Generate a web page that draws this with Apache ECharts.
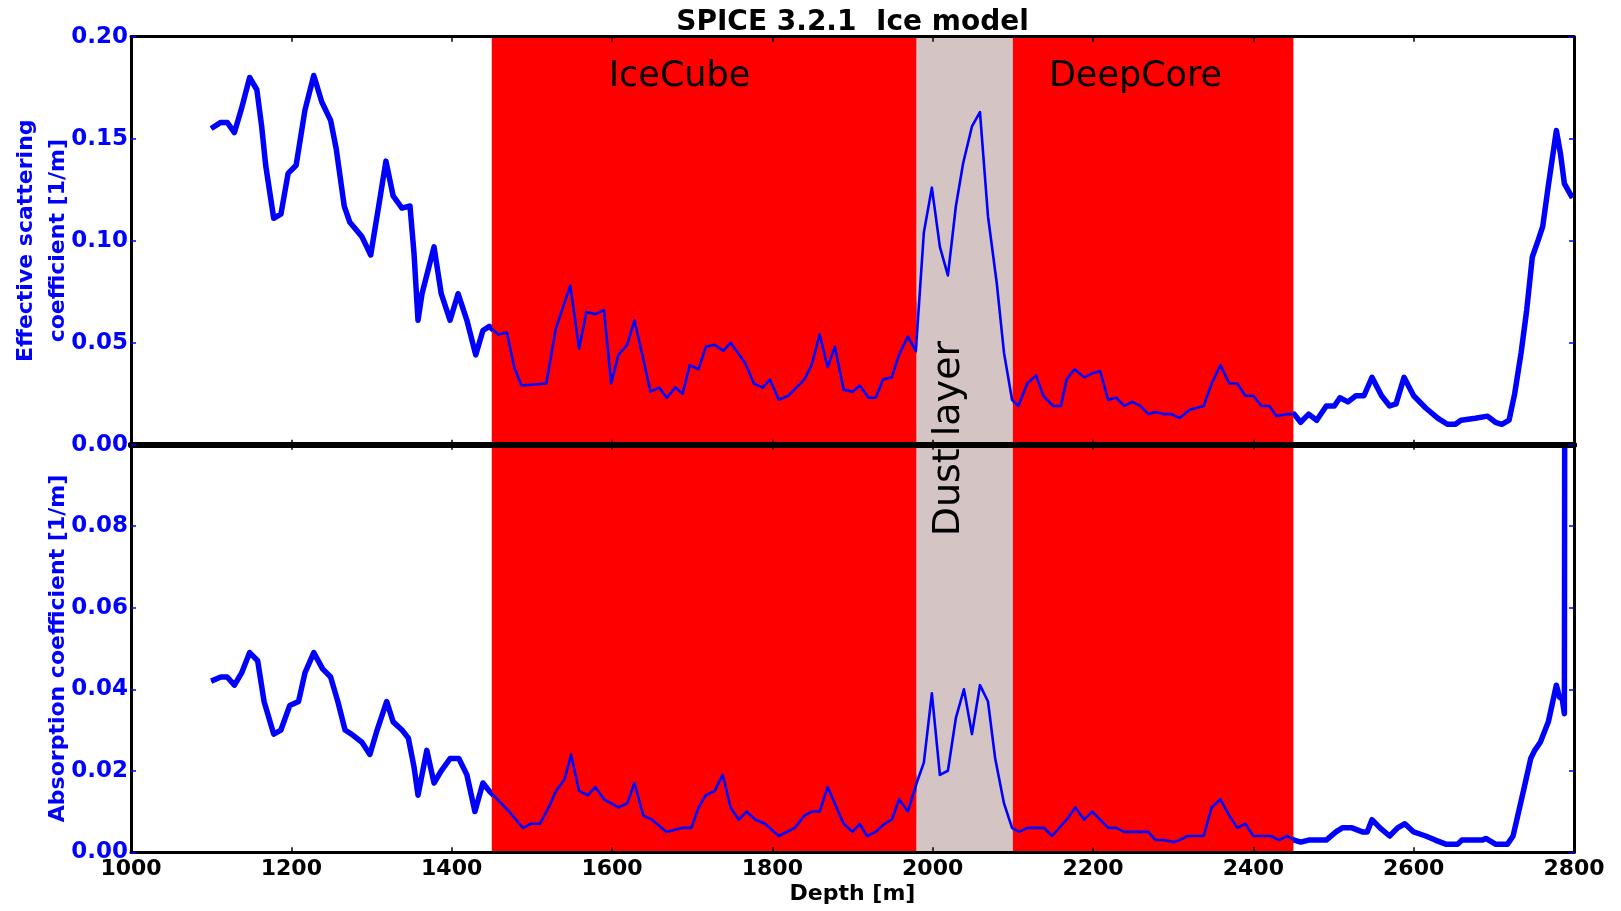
<!DOCTYPE html>
<html>
<head>
<meta charset="utf-8">
<script src="https://cdn.jsdelivr.net/npm/echarts@6/dist/echarts.min.js"></script>
<style>
html,body{margin:0;padding:0;background:#ffffff;}
#chart{width:1621px;height:911px;}
</style>
</head>
<body>
<div id="chart"></div>
<script>
// ---------------- data ----------------
const scatDepth = [1100,1112,1120,1129,1138,1148,1157,1163,1168,1178,1187,1196,1206,1217,1228,1238,1249,1256,1266,1273,1288,1299,1309,1318,1327,1338,1348,1353,1358,1363,1378,1387,1398,1408,1419,1430,1439,1447,1458,1469,1478,1487,1518,1530,1548,1559,1568,1579,1590,1599,1608,1619,1628,1639,1648,1659,1668,1679,1688,1697,1708,1717,1728,1739,1748,1766,1777,1788,1797,1808,1820,1840,1849,1859,1869,1878,1889,1900,1909,1920,1929,1938,1949,1958,1969,1979,1989,1999,2009,2019,2029,2038,2049,2059,2069,2080,2089,2099,2107,2118,2129,2138,2150,2160,2167,2177,2189,2199,2209,2219,2229,2239,2249,2259,2269,2278,2288,2298,2308,2320,2338,2348,2359,2370,2380,2390,2400,2410,2420,2429,2442,2451,2459,2469,2479,2491,2501,2508,2518,2528,2538,2548,2560,2570,2578,2588,2600,2615,2630,2642,2652,2659,2677,2692,2702,2710,2719,2726,2734,2741,2748,2756,2761,2768,2778,2783,2788,2798];
const scatValue = [0.155,0.158,0.158,0.153,0.165,0.180,0.174,0.156,0.137,0.111,0.113,0.133,0.137,0.164,0.181,0.168,0.159,0.145,0.117,0.109,0.102,0.093,0.117,0.139,0.122,0.116,0.117,0.094,0.061,0.074,0.097,0.074,0.061,0.074,0.061,0.044,0.056,0.058,0.054,0.055,0.038,0.029,0.030,0.057,0.078,0.047,0.065,0.064,0.066,0.030,0.044,0.049,0.061,0.042,0.026,0.028,0.023,0.028,0.025,0.039,0.037,0.048,0.049,0.046,0.050,0.040,0.030,0.028,0.032,0.022,0.024,0.032,0.039,0.054,0.038,0.048,0.027,0.026,0.029,0.023,0.023,0.032,0.033,0.044,0.053,0.046,0.104,0.126,0.097,0.083,0.117,0.138,0.156,0.163,0.112,0.079,0.045,0.022,0.019,0.030,0.034,0.024,0.019,0.019,0.032,0.037,0.033,0.035,0.036,0.022,0.023,0.019,0.021,0.019,0.015,0.016,0.015,0.015,0.013,0.017,0.019,0.030,0.039,0.030,0.030,0.024,0.024,0.019,0.019,0.014,0.015,0.015,0.011,0.015,0.012,0.019,0.019,0.023,0.021,0.024,0.024,0.033,0.024,0.019,0.020,0.033,0.024,0.018,0.013,0.010,0.010,0.012,0.013,0.014,0.011,0.010,0.012,0.025,0.045,0.066,0.092,0.101,0.107,0.127,0.154,0.143,0.128,0.121];

const absDepth = [1100,1112,1120,1129,1138,1148,1158,1166,1178,1187,1198,1209,1217,1228,1239,1249,1258,1267,1275,1288,1298,1307,1319,1327,1338,1346,1353,1358,1369,1378,1387,1398,1409,1419,1429,1439,1447,1467,1489,1499,1510,1521,1530,1541,1549,1559,1570,1579,1590,1608,1619,1628,1639,1650,1668,1688,1699,1708,1717,1728,1738,1748,1758,1768,1779,1791,1808,1828,1840,1849,1859,1869,1880,1889,1900,1909,1918,1929,1940,1949,1958,1969,1980,1989,1999,2009,2019,2029,2039,2049,2059,2069,2078,2089,2099,2108,2118,2128,2139,2149,2167,2178,2189,2199,2209,2219,2229,2239,2251,2269,2278,2288,2301,2308,2318,2328,2338,2348,2359,2370,2380,2390,2400,2412,2422,2432,2442,2451,2459,2469,2479,2491,2503,2511,2523,2536,2542,2548,2558,2570,2580,2589,2600,2615,2627,2640,2655,2660,2686,2690,2702,2717,2724,2731,2738,2746,2751,2758,2768,2778,2782,2785,2788,2790];
const absValue = [0.042,0.043,0.043,0.041,0.044,0.049,0.047,0.037,0.029,0.030,0.036,0.037,0.044,0.049,0.045,0.043,0.037,0.030,0.029,0.027,0.024,0.030,0.037,0.032,0.030,0.028,0.021,0.014,0.025,0.017,0.020,0.023,0.023,0.019,0.010,0.017,0.015,0.011,0.006,0.007,0.007,0.011,0.015,0.018,0.024,0.015,0.014,0.016,0.013,0.011,0.012,0.017,0.009,0.008,0.005,0.006,0.006,0.011,0.014,0.015,0.019,0.011,0.008,0.010,0.008,0.007,0.004,0.006,0.009,0.010,0.010,0.016,0.011,0.007,0.005,0.007,0.004,0.005,0.007,0.008,0.013,0.010,0.017,0.022,0.039,0.019,0.020,0.033,0.040,0.029,0.041,0.037,0.023,0.012,0.006,0.005,0.006,0.006,0.006,0.004,0.008,0.011,0.008,0.010,0.008,0.006,0.006,0.005,0.005,0.005,0.003,0.003,0.0025,0.003,0.004,0.004,0.004,0.011,0.013,0.009,0.006,0.007,0.004,0.004,0.004,0.003,0.004,0.003,0.0025,0.003,0.003,0.003,0.005,0.006,0.006,0.005,0.005,0.008,0.006,0.004,0.006,0.007,0.005,0.004,0.003,0.002,0.002,0.003,0.003,0.0034,0.002,0.002,0.004,0.010,0.016,0.023,0.025,0.027,0.032,0.041,0.038,0.038,0.034,0.4];

const xTickValues = [1000,1200,1400,1600,1800,2000,2200,2400,2600,2800];
const scatTicks = [0.00,0.05,0.10,0.15,0.20];
const absTicks = [0.00,0.02,0.04,0.06,0.08,0.10];

const bandNames = ['IceCube','Dust layer','DeepCore'];
const bandFrom = [1450,1980,2100];
const bandTo = [1980,2100,2450];

const titleText = 'SPICE 3.2.1  Ice model';
const scatAxisName = 'Effective scattering\ncoefficient [1/m]';
const absAxisName = 'Absorption coefficient [1/m]';
const depthAxisName = 'Depth [m]';

// ---------------- styling ----------------
const FONT = 'DejaVu Sans';
const BLUE = '#0000ff';
const bandColors = ['#ff0000','#d4c4c4','#ff0000'];

function pairs(xs, ys){ return xs.map((x,i)=>[x, ys[i]]); }
const scatData = pairs(scatDepth, scatValue);
const absData = pairs(absDepth, absValue);

const xMin = xTickValues[0], xMax = xTickValues[xTickValues.length-1], xStep = xTickValues[1]-xTickValues[0];

function xAx(gridIndex, position, showLabels, lineW){
  return {
    type:'value', gridIndex:gridIndex, position:position,
    min:xMin, max:xMax, interval:xStep, z:10,
    axisLine:{show:true, onZero:false, lineStyle:{color:'#000', width:lineW}},
    axisTick:{show:true, inside:true, length:5, lineStyle:{color:'#000', width:1.5}},
    axisLabel:{show:showLabels, color:'#000', fontFamily:FONT, fontWeight:'bold', fontSize:22, margin:6,
               formatter:function(v){ return String(Math.round(v)); }},
    splitLine:{show:false}
  };
}
function yAx(gridIndex, position, ticks, showLabels, extra){
  const a = {
    type:'value', gridIndex:gridIndex, position:position,
    min:ticks[0], max:ticks[ticks.length-1], interval:ticks[1]-ticks[0], z:10,
    axisLine:{show:true, onZero:false, lineStyle:{color:'#000', width:3}},
    axisTick:{show:true, inside:true, length:5, lineStyle:{color:BLUE, width:1.5}},
    axisLabel:{show:showLabels, color:BLUE, fontFamily:FONT, fontWeight:'bold', fontSize:23, margin:3,
               formatter:function(v){ return v.toFixed(2); }},
    splitLine:{show:false}
  };
  return Object.assign(a, extra || {});
}

const xAxisTopBottom = xAx(0,'bottom',false,6);
const xAxisTopTop = xAx(0,'top',false,3);
const xAxisBotBottom = xAx(1,'bottom',true,3);
xAxisBotBottom.name = depthAxisName;
xAxisBotBottom.nameLocation = 'middle';
xAxisBotBottom.nameGap = 31;
xAxisBotBottom.nameMoveOverlap = false;
xAxisBotBottom.nameTextStyle = {color:'#000', fontFamily:FONT, fontWeight:'bold', fontSize:22};
const xAxisBotTop = xAx(1,'top',false,6);

const yScatLeft = yAx(0,'left',scatTicks,true,{
  name:scatAxisName, nameLocation:'middle', nameGap:57, nameMoveOverlap:false,
  nameTextStyle:{color:BLUE, fontFamily:FONT, fontWeight:'bold', fontSize:22, lineHeight:32}
});
const yScatRight = yAx(0,'right',scatTicks,false);
const yAbsLeft = yAx(1,'left',absTicks,true,{
  name:absAxisName, nameLocation:'middle', nameGap:57, nameMoveOverlap:false,
  nameTextStyle:{color:BLUE, fontFamily:FONT, fontWeight:'bold', fontSize:22, lineHeight:32}
});
yAbsLeft.axisLabel.showMaxLabel = false;
const yAbsRight = yAx(1,'right',absTicks,false);

const bandAreas = bandFrom.map((f,i)=>[
  {xAxis:f, itemStyle:{color:bandColors[i], opacity:1}},
  {xAxis:bandTo[i]}
]);

function lineSeries(data, xi, yi, width, z, withBands){
  const s = {
    type:'line', data:data, xAxisIndex:xi, yAxisIndex:yi,
    showSymbol:false, symbol:'none', z:z, clip:true, silent:true,
    lineStyle:{color:BLUE, width:width, join:'round'}, animation:false
  };
  if (withBands){
    s.markArea = {silent:true, z:2, label:{show:false}, itemStyle:{opacity:1}, data:bandAreas};
  }
  return s;
}

const chart = echarts.init(document.getElementById('chart'), null, {renderer:'canvas'});
chart.setOption({
  animation:false,
  backgroundColor:'#ffffff',
  grid:[
    {left:131, right:47, top:36.7, height:408, containLabel:false, outerBoundsMode:'none'},
    {left:131, right:47, top:444.7, height:407.6, containLabel:false, outerBoundsMode:'none'}
  ],
  xAxis:[xAxisTopBottom, xAxisTopTop, xAxisBotBottom, xAxisBotTop],
  yAxis:[yScatLeft, yScatRight, yAbsLeft, yAbsRight],
  series:[
    lineSeries(scatData, 0, 0, 5.5, 1, false),
    lineSeries(scatData, 0, 0, 2.6, 3, true),
    lineSeries(absData, 2, 2, 5.5, 1, false),
    lineSeries(absData, 2, 2, 2.6, 3, true)
  ]
});

// text annotations anchored to data coordinates
const pIce = chart.convertToPixel({gridIndex:0}, [1596, 0.175]);
const pDeep = chart.convertToPixel({gridIndex:0}, [2145, 0.175]);
const pDust = chart.convertToPixel({gridIndex:1}, [2021, 0.1015]);
const pTitle = chart.convertToPixel({gridIndex:0}, [(xMin+xMax)/2, 0.2]);

chart.setOption({
  graphic:[
    {type:'text', z:50, x:pTitle[0], y:22.5,
     style:{text:titleText, fill:'#000', font:'bold 28px "DejaVu Sans"', align:'center', verticalAlign:'middle'}},
    {type:'text', z:50, x:pIce[0], y:pIce[1]-10.5,
     style:{text:bandNames[0], fill:'#000', font:'35px "DejaVu Sans"', align:'left', verticalAlign:'middle'}},
    {type:'text', z:50, x:pDeep[0], y:pDeep[1]-10.5,
     style:{text:bandNames[2], fill:'#000', font:'35px "DejaVu Sans"', align:'left', verticalAlign:'middle'}},
    {type:'text', z:50, x:pDust[0], y:pDust[1], rotation:Math.PI/2,
     style:{text:bandNames[1], fill:'#000', font:'38px "DejaVu Sans"', align:'center', verticalAlign:'middle'}}
  ]
});
</script>
</body>
</html>
